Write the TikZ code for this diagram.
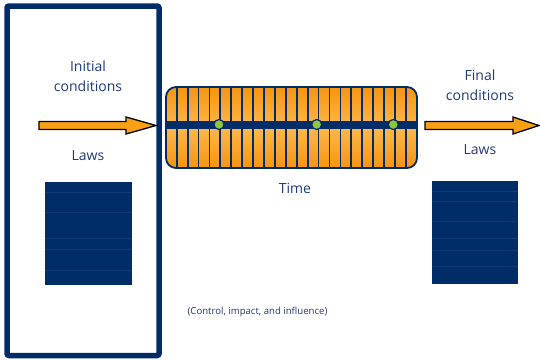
\documentclass[tikz,border=0pt]{standalone}
\usepackage{fontspec}
\setmainfont{Open Sans}
\definecolor{navy}{RGB}{0,44,104}
\definecolor{labelblue}{RGB}{31,58,120}
\definecolor{orangefill}{RGB}{250,160,22}
\definecolor{orangedark}{RGB}{246,148,18}
\definecolor{orangelight}{RGB}{255,184,74}
\definecolor{dotgreen}{RGB}{141,198,63}
\begin{document}
\begin{tikzpicture}[x=1pt,y=-1pt,
  label/.style={text=labelblue, font=\fontsize{14}{20}\selectfont, align=center, inner sep=0pt},
  smalllabel/.style={text=labelblue, font=\fontsize{9.6}{12}\selectfont, inner sep=0pt},
  block/.style={fill=navy, draw=none, inner sep=0pt},
  seam/.style={draw=navy!93!white, line width=0.3pt},
  flowarrow/.style={fill=orangefill, draw=black, line width=1.3pt, line join=miter},
  tick/.style={draw=navy, line width=1.8pt},
  event/.style={circle, fill=dotgreen, draw=navy, line width=1.2pt, minimum size=10pt, inner sep=0pt}]
\useasboundingbox (0,0) rectangle (540,359);

% outer frame round the starting state
\node[draw=navy, line width=5.5pt, rounded corners=2pt, minimum width=152pt,
      minimum height=349.5pt, inner sep=0pt] (frame) at (83,180.75) {};

% starting state
\node[label] (init) at (88,76) {Initial\\conditions};
\node[label] (lawsL) at (88,156) {Laws};
\node[block, minimum width=87pt, minimum height=103pt] (stackL) at (88.5,233.5) {};
\foreach \yy in {192,212,238,249,270}
  \draw[seam] ([xshift=0.5pt]stackL.west |- 0,\yy) -- ([xshift=-0.5pt]stackL.east |- 0,\yy);

% time bar
\node[rounded corners=10pt, minimum width=251pt, minimum height=81pt, inner sep=0pt,
      top color=orangedark, bottom color=orangedark, middle color=orangelight] (bar) at (291.5,127.5) {};
\foreach \k in {1,...,22}
  \draw[tick] ([xshift={\k*10.913pt}]bar.north west) -- ([xshift={\k*10.913pt}]bar.south west);
\draw[navy, line width=8pt] (bar.west |- 0,124.5) -- (bar.east |- 0,124.5);
\node[draw=navy, line width=1.8pt, rounded corners=10pt, minimum width=251pt,
      minimum height=81pt, inner sep=0pt] (barrim) at (bar.center) {};
\node[event] (e1) at (219,124.5) {};
\node[event] (e2) at (316.7,124.5) {};
\node[event] (e3) at (393.3,124.5) {};
\node[label] (time) at (295,188) {Time};

% arrows into and out of the time bar
\coordinate (inTip) at ([xshift=-5.75pt]frame.east |- 0,125.5);
\draw[flowarrow] (39,121.5) -- (126,121.5) -- (126,117) -- (inTip) -- (126,134)
  -- (126,129.5) -- (39,129.5) -- cycle;
\coordinate (outTip) at (539,125.5);
\draw[flowarrow] (425,121.5) -- (513,121.5) -- (513,117) -- (outTip) -- (513,134)
  -- (513,129.5) -- (425,129.5) -- cycle;

% final state
\node[label] (final) at (480,85) {Final\\conditions};
\node[label] (lawsR) at (480,150) {Laws};
\node[block, minimum width=86pt, minimum height=103pt] (stackR) at (475,232.5) {};
\foreach \yy in {191,201,221,238,250,266}
  \draw[seam] ([xshift=0.5pt]stackR.west |- 0,\yy) -- ([xshift=-0.5pt]stackR.east |- 0,\yy);

\node[smalllabel] (note) at (257.5,311.5) {(Control, impact, and influence)};
\end{tikzpicture}
\end{document}
